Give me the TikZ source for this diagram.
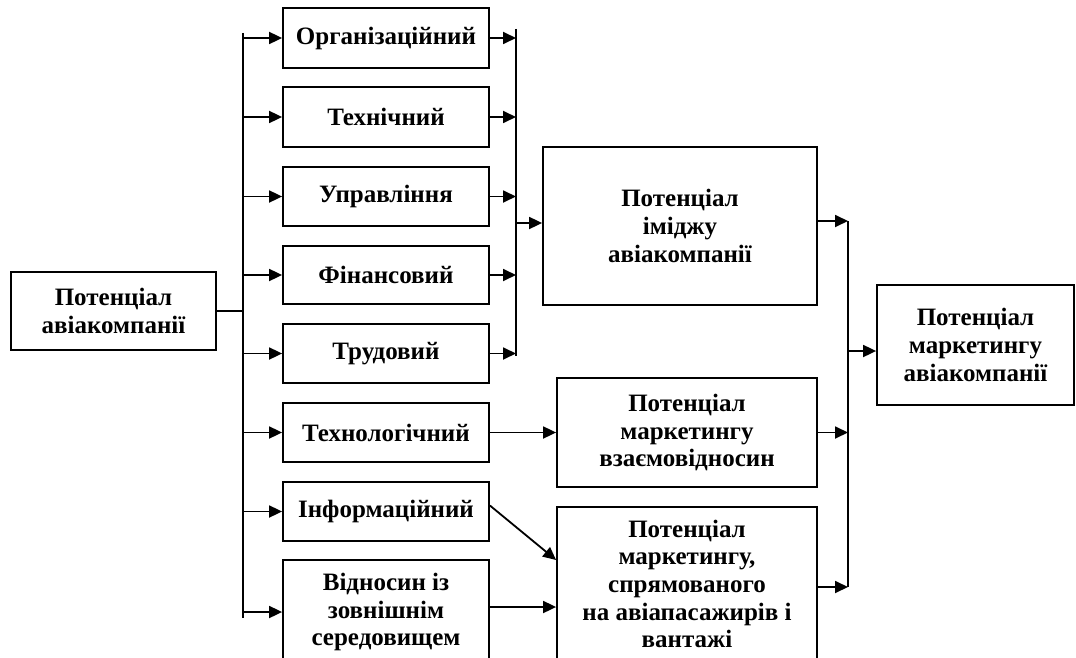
\documentclass[tikz,border=0pt]{standalone}
\usepackage{fontspec}
\setmainfont{Liberation Serif}
\usepackage{tikz}
\usetikzlibrary{arrows.meta}

\begin{document}
\begin{tikzpicture}[x=0.5pt,y=-0.5pt,line width=0.9pt,
        box/.style={draw, align=center, inner sep=1pt, font=\fontsize{12.5}{13.8}\selectfont\bfseries},
        arr/.style={-{Triangle[length=6.5pt,width=6pt]}}]
        \useasboundingbox (0,0) rectangle (1076,658);
        \clip (0,0) rectangle (1076,658);
        \node[box, minimum width=102.5pt, minimum height=39pt] (a) at (113.5,311) {Потенціал\\авіакомпанії};
        \foreach \i/\y/\h/\w in {1/38/30/Організаційний, 2/117/30/Технічний, 3/196.5/29.5/Управління, 4/275/29/Фінансовий, 5/353.5/29.5/Трудовий, 6/432.5/29.5/Технологічний, 7/511.5/29.5/Інформаційний, 8/612/52/{Відносин із\\зовнішнім\\середовищем}}{
            \node[box, minimum width=103pt, minimum height=\h pt] (x\i) at (386,\y) {\w};
        }
        \node[box, minimum width=137pt, minimum height=79pt] (p1) at (680,226) {Потенціал\\іміджу\\авіакомпанії};
        \node[box, minimum width=130pt, minimum height=54.5pt] (p2) at (687,432.5) {Потенціал\\маркетингу\\взаємовідносин};
        \node[box, minimum width=130pt, minimum height=77pt] (p3) at (687,584) {Потенціал\\маркетингу,\\спрямованого\\на авіапасажирів і\\вантажі};
        \node[box, minimum width=98.5pt, minimum height=60pt] (m) at (975.5,345) {Потенціал\\маркетингу\\авіакомпанії};
        \coordinate (t1) at (243,33);
        \coordinate (t2) at (243,618);
        \coordinate (b1) at (516,29);
        \coordinate (b2) at (516,356);
        \coordinate (c1) at (848,221);
        \coordinate (c2) at (848,587);
        \path[draw] (a.east) -- (a.east -| t1);
        \path[draw] (t1) -- (t2);
        \path[draw] (b1) -- (b2);
        \path[draw] (c1) -- (c2);
        \foreach \i in {1,...,8}{
            \path[draw, arr] (x\i.west -| t1) -- (x\i.west);
        }
        \foreach \i in {1,...,5}{
            \path[draw, arr] (x\i.east) -- (x\i.east -| b1);
        }
        \path[draw, arr] ([yshift=1.5pt]p1.west -| b1) -- ([yshift=1.5pt]p1.west);
        \path[draw, arr] (x6.east) -- (x6.east -| p2.west);
        \path[draw, arr] ([yshift=3pt]x7.east) -- ([yshift=12pt]p3.west);
        \path[draw, arr] ([yshift=2.5pt]x8.east) -- ([yshift=2.5pt]x8.east -| p3.west);
        \path[draw, arr] ([yshift=2.5pt]p1.east) -- ([yshift=2.5pt]p1.east -| c1);
        \path[draw, arr] (p2.east) -- (p2.east -| c1);
        \path[draw, arr] ([yshift=-1.5pt]p3.east) -- ([yshift=-1.5pt]p3.east -| c1);
        \path[draw, arr] ([yshift=-3pt]m.west -| c1) -- ([yshift=-3pt]m.west);
    \end{tikzpicture}
\end{document}
